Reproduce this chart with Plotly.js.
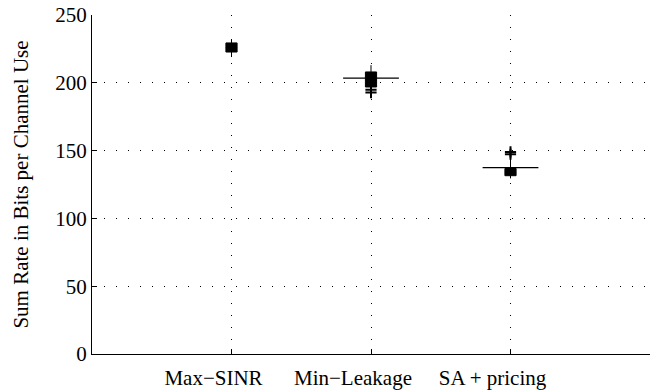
<!DOCTYPE html>
<html>
<head>
<meta charset="utf-8">
<script src="https://cdn.plot.ly/plotly-3.0.1.min.js"></script>
<style>html,body{margin:0;padding:0;background:#fff;}#chart{width:670px;height:392px;}</style>
</head>
<body>
<div id="chart"></div>
<script>
const categories = ['Max\u2212SINR', 'Min\u2212Leakage', 'SA + pricing'];
const positions = [1, 2, 3];
const q1 = [222.7, 196.9, 131.5];
const median = [226.0, 202.0, 134.0];
const q3 = [229.4, 208.0, 136.8];
const lowerFence = [219.0, 196.0, 129.5];
const upperFence = [231.6, 213.0, 145.0];
const outlierX = [2, 2, 3, 3];
const outlierY = [194.8, 192.8, 149.0, 147.3];
const refLineValue = [null, 203.5, 137.4];
const yTicks = [0, 50, 100, 150, 200, 250];

const traces = [];
for (let i = 0; i < categories.length; i++) {
  traces.push({
    type: 'box',
    x: [positions[i]],
    q1: [q1[i]], median: [median[i]], q3: [q3[i]],
    lowerfence: [lowerFence[i]], upperfence: [upperFence[i]],
    width: 0.08,
    whiskerwidth: 0,
    fillcolor: '#000',
    line: {color: '#000', width: 1},
    boxpoints: false,
    hoverinfo: 'skip',
    showlegend: false
  });
}
traces.push({
  type: 'scatter', mode: 'markers',
  x: outlierX, y: outlierY,
  marker: {symbol: 'cross-thin-open', size: 8, color: '#000', line: {color: '#000', width: 2}},
  showlegend: false, hoverinfo: 'skip'
});
for (let i = 0; i < categories.length; i++) {
  if (refLineValue[i] === null) continue;
  traces.push({
    type: 'scatter', mode: 'lines',
    x: [positions[i] - 0.2, positions[i] + 0.2],
    y: [refLineValue[i], refLineValue[i]],
    line: {color: '#000', width: 1.3},
    showlegend: false, hoverinfo: 'skip'
  });
}

const layout = {
  width: 670, height: 392,
  margin: {l: 92, r: 20, t: 15, b: 38},
  paper_bgcolor: '#fff', plot_bgcolor: '#fff',
  font: {family: '"Liberation Serif", "Times New Roman", serif', size: 21, color: '#000'},
  showlegend: false,
  xaxis: {
    range: [0, 4],
    tickvals: positions, ticktext: categories,
    showgrid: true, gridcolor: '#000', gridwidth: 1, griddash: '1px,11px',
    showline: true, linecolor: '#000', linewidth: 1,
    ticks: 'inside', ticklen: 5, tickcolor: '#000',
    ticklabelshift: -18, ticklabelstandoff: 5,
    zeroline: false, fixedrange: true,
    tickfont: {size: 21}
  },
  yaxis: {
    range: [0, 250],
    tickvals: yTicks,
    showgrid: true, gridcolor: '#000', gridwidth: 1, griddash: '1px,11px',
    showline: true, linecolor: '#000', linewidth: 1,
    ticks: 'inside', ticklen: 5, tickcolor: '#000',
    zeroline: false, fixedrange: true,
    title: {text: 'Sum Rate in Bits per Channel Use', font: {size: 21}, standoff: 20},
    tickfont: {size: 21}
  }
};

Plotly.newPlot('chart', traces, layout, {staticPlot: true, displayModeBar: false});
</script>
</body>
</html>
